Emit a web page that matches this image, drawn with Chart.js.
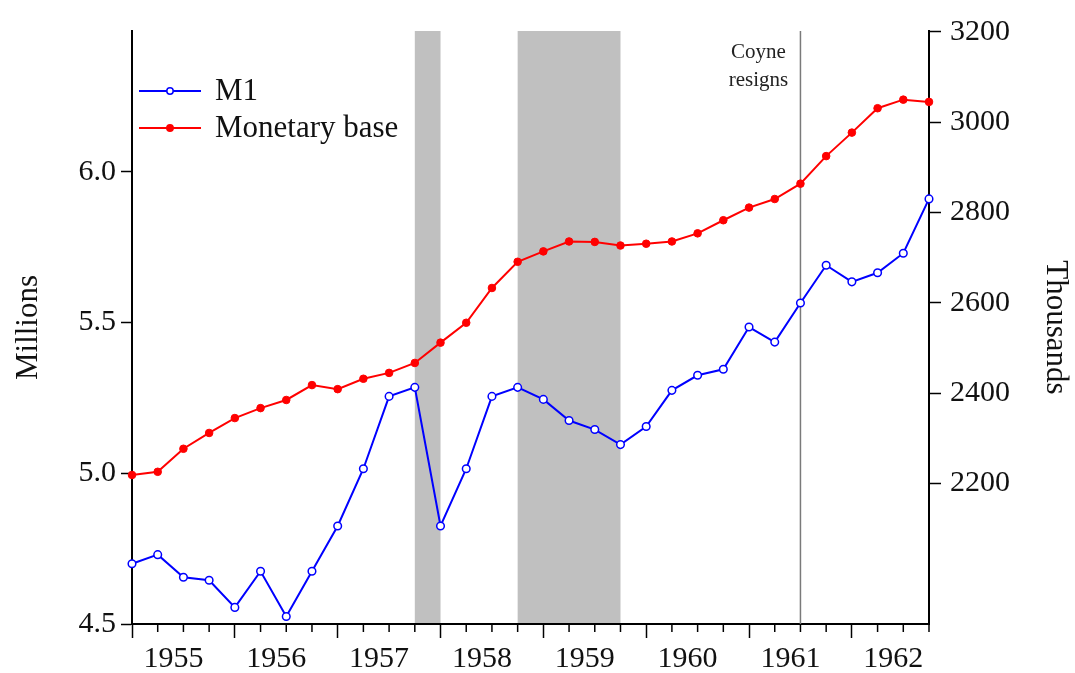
<!DOCTYPE html>
<html>
<head>
<meta charset="utf-8">
<script src="https://cdn.jsdelivr.net/npm/chart.js@4"></script>
<style>
  html, body { margin: 0; padding: 0; background: #fff; }
  #wrap { width: 1075px; height: 673px; }
</style>
</head>
<body>
<div id="wrap"><canvas id="myChart" width="1075" height="673"></canvas></div>
<script>
// quarterly observations
const quarters = [
  '1955Q1','1955Q2','1955Q3','1955Q4','1956Q1','1956Q2','1956Q3','1956Q4',
  '1957Q1','1957Q2','1957Q3','1957Q4','1958Q1','1958Q2','1958Q3','1958Q4',
  '1959Q1','1959Q2','1959Q3','1959Q4','1960Q1','1960Q2','1960Q3','1960Q4',
  '1961Q1','1961Q2','1961Q3','1961Q4','1962Q1','1962Q2','1962Q3','1962Q4'
]
// M1, millions (left axis)
const m1 = [4.70, 4.73, 4.655, 4.645, 4.555, 4.675, 4.525, 4.675,
            4.825, 5.015, 5.255, 5.285, 4.825, 5.015, 5.255, 5.285,
            5.245, 5.175, 5.145, 5.095, 5.155, 5.275, 5.325, 5.345,
            5.485, 5.435, 5.565, 5.69, 5.635, 5.665, 5.73, 5.91]
// monetary base, thousands (right axis)
const base = [2219, 2226, 2277, 2312, 2345, 2367, 2385, 2418,
              2409, 2432, 2445, 2467, 2512, 2556, 2633, 2691,
              2714, 2736, 2735, 2727, 2731, 2736, 2754, 2783,
              2811, 2830, 2864, 2925, 2977, 3031, 3050, 3045]

const leftTicks = [4.5, 5.0, 5.5, 6.0]
const rightTicks = [2200, 2400, 2600, 2800, 3000, 3200]

// shaded periods and the event line
const recessionStart = ['1957Q4', '1958Q4']
const recessionEnd = ['1958Q1', '1959Q4']
const eventQuarter = '1961Q3'
const eventText = ['Coyne', 'resigns']

const serif = "'Liberation Serif', 'DejaVu Serif', serif"

const extras = {
  id: 'extras',
  beforeDatasetsDraw(chart) {
    const ctx = chart.ctx
    const a = chart.chartArea
    const x = chart.scales.x
    ctx.save()
    ctx.fillStyle = '#c0c0c0'
    for (let i = 0; i < recessionStart.length; i++) {
      const x0 = x.getPixelForValue(quarters.indexOf(recessionStart[i]))
      const x1 = x.getPixelForValue(quarters.indexOf(recessionEnd[i]))
      ctx.fillRect(x0, a.top, x1 - x0, a.bottom - a.top - 1)
    }
    const xc = x.getPixelForValue(quarters.indexOf(eventQuarter))
    ctx.strokeStyle = '#7a7a7a'
    ctx.lineWidth = 1.5
    ctx.beginPath()
    ctx.moveTo(xc, a.top)
    ctx.lineTo(xc, a.bottom)
    ctx.stroke()
    ctx.fillStyle = '#222'
    ctx.font = '21px ' + serif
    ctx.textAlign = 'center'
    ctx.textBaseline = 'middle'
    ctx.fillText(eventText[0], xc - 42, 52)
    ctx.fillText(eventText[1], xc - 42, 80)
    ctx.restore()
  },
  afterDraw(chart) {
    const ctx = chart.ctx
    const a = chart.chartArea
    const x = chart.scales.x
    ctx.save()
    // short quarter ticks
    ctx.strokeStyle = '#000'
    ctx.lineWidth = 1.5
    for (let i = 0; i < quarters.length; i++) {
      if (i % 4 === 0) continue
      const px = x.getPixelForValue(i)
      ctx.beginPath()
      ctx.moveTo(px, a.bottom)
      ctx.lineTo(px, a.bottom + 8)
      ctx.stroke()
    }
    // legend
    chart.data.datasets.forEach((ds, i) => {
      const y = 91 + i * 37
      ctx.strokeStyle = ds.borderColor
      ctx.lineWidth = 2
      ctx.beginPath()
      ctx.moveTo(139, y)
      ctx.lineTo(201, y)
      ctx.stroke()
      ctx.beginPath()
      ctx.arc(170, y, 3.2, 0, Math.PI * 2)
      ctx.fillStyle = ds.pointBackgroundColor
      ctx.fill()
      ctx.lineWidth = 1.5
      ctx.stroke()
      ctx.fillStyle = '#111'
      ctx.font = '31px ' + serif
      ctx.textAlign = 'left'
      ctx.textBaseline = 'middle'
      ctx.fillText(ds.label, 215, y + 1)
    })
    ctx.restore()
  }
}

const ctx = document.getElementById('myChart').getContext('2d')
const myChart = new Chart(ctx, {
  type: 'line',
  data: {
    labels: quarters,
    datasets: [{
      label: 'M1',
      data: m1,
      yAxisID: 'y',
      borderColor: '#0000ff',
      borderWidth: 2,
      pointBackgroundColor: '#ffffff',
      pointBorderColor: '#0000ff',
      pointBorderWidth: 1.5,
      pointRadius: 3.8,
      tension: 0,
      clip: false
    }, {
      label: 'Monetary base',
      data: base,
      yAxisID: 'y2',
      borderColor: '#ff0000',
      borderWidth: 2,
      pointBackgroundColor: '#ff0000',
      pointBorderColor: '#ff0000',
      pointBorderWidth: 1,
      pointRadius: 3.8,
      tension: 0,
      clip: false
    }]
  },
  options: {
    responsive: false,
    animation: false,
    layout: { padding: { top: 31, left: 0, right: 0, bottom: 0 } },
    plugins: {
      legend: { display: false },
      tooltip: { enabled: false }
    },
    scales: {
      x: {
        type: 'category',
        offset: false,
        grid: {
          drawOnChartArea: false,
          offset: false,
          tickLength: 14,
          tickWidth: 1.5,
          tickColor: (c) => (c.index % 4 === 0 ? '#000' : 'rgba(0,0,0,0)')
        },
        border: { display: true, color: '#000', width: 2 },
        ticks: {
          autoSkip: false,
          maxRotation: 0,
          minRotation: 0,
          labelOffset: -10,
          padding: 3,
          color: '#111',
          font: { family: serif, size: 30 },
          callback: function (value, index) {
            const q = quarters[index]
            return q.endsWith('Q3') ? q.slice(0, 4) : ''
          }
        },
        afterFit: (s) => { s.height = 49 }
      },
      y: {
        position: 'left',
        min: 4.5,
        max: 6.467,
        afterBuildTicks: (s) => { s.ticks = leftTicks.map(v => ({ value: v })) },
        grid: { drawOnChartArea: false, tickLength: 11, tickWidth: 1.5, tickColor: '#000' },
        border: { display: true, color: '#000', width: 2 },
        ticks: {
          padding: 5,
          color: '#111',
          font: { family: serif, size: 30 },
          callback: (v) => Number(v).toFixed(1)
        },
        title: {
          display: true,
          text: 'Millions',
          color: '#111',
          font: { family: serif, size: 31 },
          padding: { top: 10, bottom: 0 }
        },
        afterFit: (s) => { s.width = 132 }
      },
      y2: {
        position: 'right',
        min: 1889,
        max: 3202,
        afterBuildTicks: (s) => { s.ticks = rightTicks.map(v => ({ value: v })) },
        grid: { drawOnChartArea: false, tickLength: 12, tickWidth: 1.5, tickColor: '#000' },
        border: { display: true, color: '#000', width: 2 },
        ticks: {
          padding: 9,
          color: '#111',
          font: { family: serif, size: 30 },
          callback: (v) => String(v)
        },
        title: {
          display: true,
          text: 'Thousands',
          color: '#111',
          font: { family: serif, size: 31 },
          padding: { top: 1, bottom: 0 }
        },
        afterFit: (s) => { s.width = 146 }
      }
    }
  },
  plugins: [extras]
})
</script>
</body>
</html>
